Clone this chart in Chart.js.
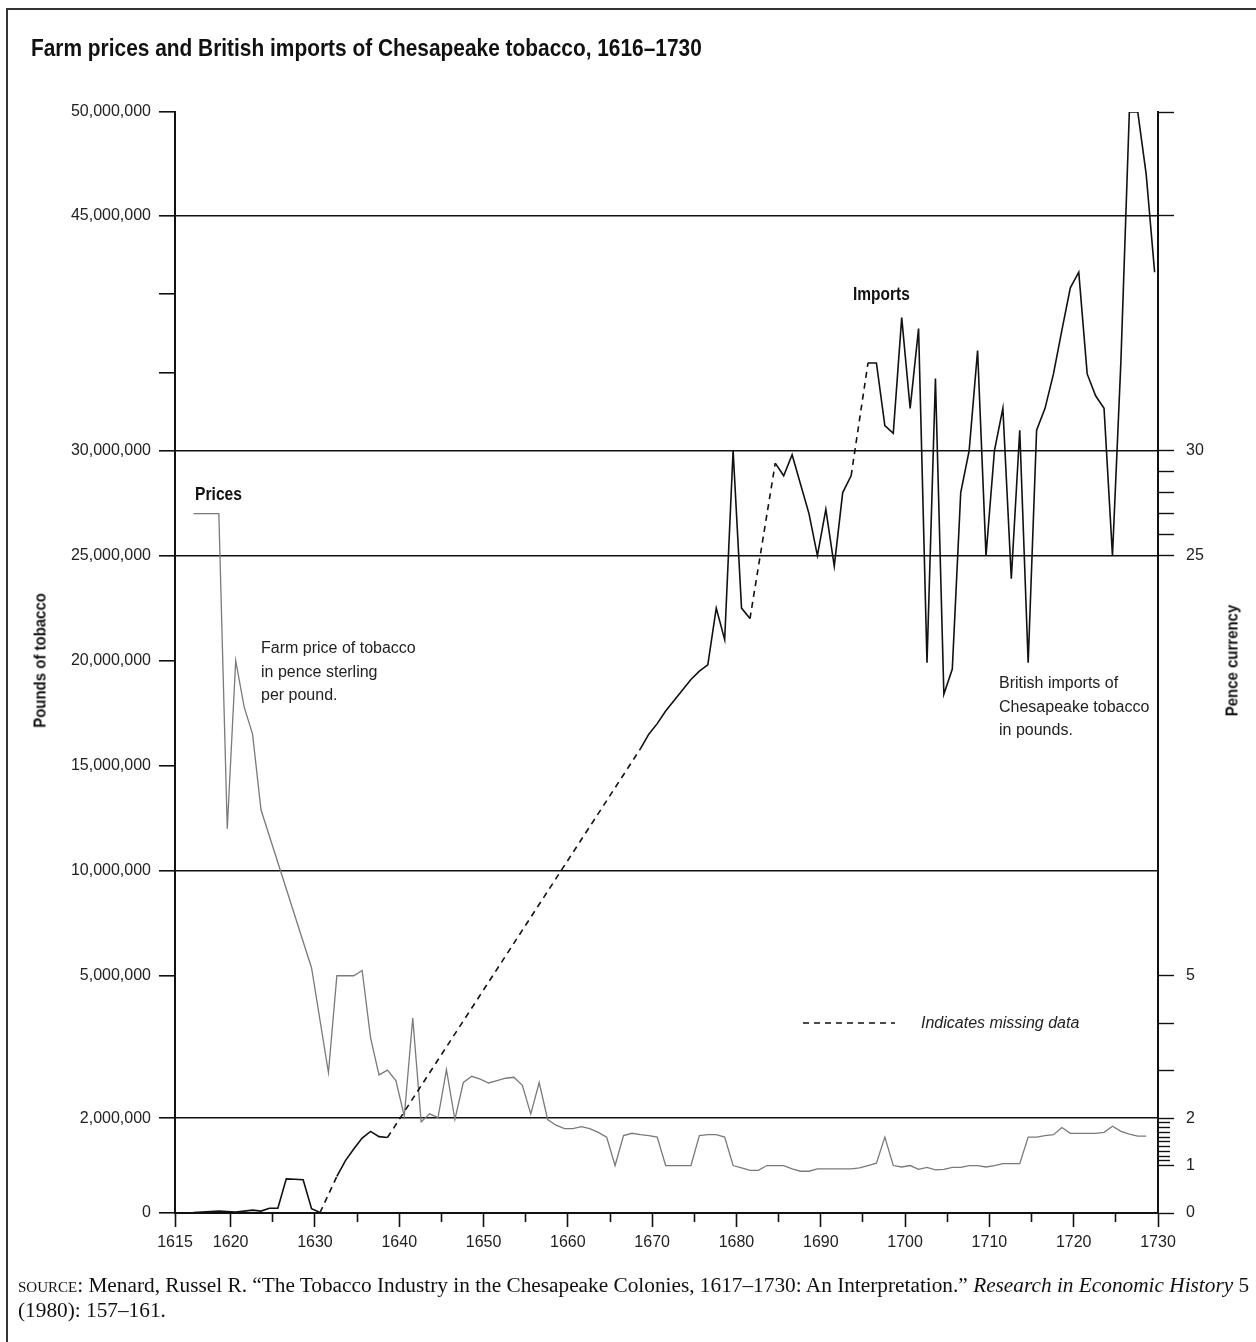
<!DOCTYPE html>
<html>
<head>
<meta charset="utf-8">
<title>Farm prices and British imports of Chesapeake tobacco, 1616–1730</title>
<script src="https://cdn.jsdelivr.net/npm/chart.js@4.4.1/dist/chart.umd.min.js"></script>
<style>
  body { margin: 0; background: #fff; }
  #page { position: relative; width: 1256px; height: 1342px; overflow: hidden; background: #fff; }
  #frame { position: absolute; left: 6px; top: 8px; width: 1400px; height: 1500px; border: 2px solid #333; box-sizing: border-box; }
  canvas { position: absolute; left: 0; top: 0; }
  .txt { position: absolute; color: #222; font-family: 'Liberation Sans', Arial, sans-serif; white-space: nowrap; line-height: 1; }
  .narrow { font-weight: bold; color: #111; transform-origin: left center; }
  #title { left: 31px; top: 36px; font-size: 24px; transform: scaleX(0.87); }
  .ytitle { width: 220px; text-align: center; font-size: 17px; transform-origin: center center; transform: rotate(-90deg) scaleX(0.88); }
  .note { font-size: 16px; line-height: 23.5px; }
  #source { left: 18px; top: 1273px; font-family: 'Liberation Serif', 'Times New Roman', serif; font-size: 21.3px; line-height: 25px; color: #111; }
  #source .sc { font-variant: small-caps; }
</style>
</head>
<body>
<div id="page">
  <div id="frame"></div>
  <canvas id="tobaccoChart" width="1256" height="1342"></canvas>
  <div id="title" class="txt narrow">Farm prices and British imports of Chesapeake tobacco, 1616–1730</div>
  <div class="txt narrow ytitle" style="left:-70px; top:652px;">Pounds of tobacco</div>
  <div class="txt narrow ytitle" style="left:1122px; top:652px;">Pence currency</div>
  <div class="txt narrow" style="left:195px; top:485px; font-size:18px; transform: scaleX(0.87);">Prices</div>
  <div class="txt narrow" style="left:853px; top:285px; font-size:18px; transform: scaleX(0.86);">Imports</div>
  <div class="txt note" style="left:261px; top:636px;">Farm price of tobacco<br>in pence sterling<br>per pound.</div>
  <div class="txt note" style="left:999px; top:671px;">British imports of<br>Chesapeake tobacco<br>in pounds.</div>
  <div class="txt" style="left:921px; top:1015px; font-size:16px; font-style:italic;">Indicates missing data</div>
  <div id="source" class="txt"><span class="sc">source</span>: Menard, Russel R. “The Tobacco Industry in the Chesapeake Colonies, 1617–1730: An Interpretation.” <i>Research in Economic History</i> 5<br>(1980): 157–161.</div>
</div>
<script>
// Farm price of tobacco, pence per pound (only the years that show on the line)
var priceYears = [1616, 1617, 1618, 1619, 1620, 1621, 1622, 1623, 1624, 1630, 1632, 1633, 1634, 1635, 1636, 1637, 1638, 1639, 1640,
    1641, 1642, 1643, 1644, 1645, 1646, 1647, 1648, 1649, 1650, 1651, 1652, 1653, 1654, 1655, 1656, 1657, 1658, 1659, 1660,
    1661, 1662, 1663, 1664, 1665, 1666, 1667, 1668, 1669, 1670, 1671, 1672, 1673, 1674, 1675, 1676, 1677, 1678, 1679, 1680,
    1681, 1682, 1683, 1684, 1685, 1686, 1687, 1688, 1689, 1690, 1691, 1692, 1693, 1694, 1695, 1696, 1697, 1698, 1699, 1700,
    1701, 1702, 1703, 1704, 1705, 1706, 1707, 1708, 1709, 1710, 1711, 1712, 1713, 1714, 1715, 1716, 1717, 1718, 1719, 1720,
    1721, 1722, 1723, 1724, 1725, 1726, 1727, 1728, 1729, 1730];
var pricePence = [27, 27, 27, 27, 12.0, 20.0, 17.8, 16.5, 12.9, 5.37, 2.96, 5.0, 5.0, 5.0, 5.25, 3.69, 2.91, 3.01, 2.79,
    2.04, 4.11, 1.92, 2.09, 2.01, 3.02, 1.97, 2.75, 2.88, 2.82, 2.74, 2.79, 2.84, 2.86, 2.69, 2.09, 2.75, 1.97, 1.85, 1.78,
    1.78, 1.82, 1.78, 1.70, 1.60, 1.0, 1.63, 1.68, 1.65, 1.63, 1.6, 1.0, 1.0, 1.0, 1.0, 1.63, 1.65, 1.65, 1.6, 1.0,
    0.95, 0.9, 0.9, 1.0, 1.0, 1.0, 0.93, 0.88, 0.88, 0.93, 0.93, 0.93, 0.93, 0.93, 0.95, 1.0, 1.05, 1.6, 1.0,
    0.97, 1.0, 0.92, 0.96, 0.91, 0.92, 0.96, 0.96, 1.0, 1.0, 0.97, 1.0, 1.04, 1.04, 1.04, 1.6, 1.6, 1.63, 1.65, 1.8,
    1.68, 1.68, 1.68, 1.68, 1.7, 1.83, 1.72, 1.66, 1.62, 1.62];

// British imports of Chesapeake tobacco, millions of pounds (gaps in the years = missing data)
var importYears = [1616, 1617, 1618, 1619, 1620, 1621, 1622, 1623, 1624, 1625, 1626, 1627, 1628, 1629, 1630, 1631,
    1633, 1634, 1635, 1636, 1637, 1638, 1639,
    1669, 1670, 1671, 1672, 1673, 1674, 1675, 1676, 1677, 1678, 1679, 1680, 1681, 1682,
    1685, 1686, 1687, 1688, 1689, 1690, 1691, 1692, 1693, 1694,
    1696, 1697, 1698, 1699, 1700, 1701, 1702, 1703, 1704, 1705, 1706, 1707, 1708, 1709, 1710, 1711, 1712, 1713,
    1714, 1715, 1716, 1717, 1718, 1719, 1720, 1721, 1722, 1723, 1724, 1725, 1726, 1727, 1728, 1729, 1730];
var importMillions = [0.01, 0.02, 0.03, 0.04, 0.03, 0.02, 0.04, 0.06, 0.04, 0.10, 0.10, 0.72, 0.71, 0.70, 0.09, 0.01,
    0.77, 1.1, 1.35, 1.58, 1.72, 1.61, 1.59,
    15.8, 16.5, 17.0, 17.6, 18.1, 18.6, 19.1, 19.5, 19.8, 22.5, 21.0, 30.0, 22.5, 22.0,
    29.4, 28.8, 29.8, 28.4, 27.0, 25.0, 27.2, 24.5, 28.0, 28.8,
    35.6, 35.6, 31.6, 31.1, 38.5, 32.7, 37.8, 19.9, 34.6, 18.4, 19.6, 28.0, 30.0, 36.4, 25.0, 30.0, 32.7, 23.9,
    31.3, 19.9, 31.3, 32.7, 34.9, 37.7, 40.4, 41.4, 34.9, 33.5, 32.7, 25.0, 35.7, 50, 50, 47.0, 41.4];

// Axis ticks
var xTicks = [1615, 1620, 1625, 1630, 1635, 1640, 1645, 1650, 1655, 1660, 1665, 1670, 1675, 1680, 1685, 1690, 1695,
    1700, 1705, 1710, 1715, 1720, 1725, 1730];
var xLabelled = [1615, 1620, 1630, 1640, 1650, 1660, 1670, 1680, 1690, 1700, 1710, 1720, 1730];
var poundTicks = [0, 2e6, 5e6, 10e6, 15e6, 20e6, 25e6, 30e6, 35e6, 40e6, 45e6, 50e6];
var poundLabelled = [0, 2e6, 5e6, 10e6, 15e6, 20e6, 25e6, 30e6, 45e6, 50e6];
var gridLines = [0, 2e6, 10e6, 25e6, 30e6, 45e6];
var penceTicks = [0, 1, 1.1, 1.2, 1.3, 1.4, 1.5, 1.6, 1.7, 1.8, 1.9, 2, 3, 4, 5, 25, 26, 27, 28, 29, 30, 45, 50];
var penceLabelled = [0, 1, 2, 5, 25, 30];

// The vertical scale of the original is drawn in pieces: value (millions / pence) -> share of the axis height
var scaleBreaks = [0, 5, 30, 45, 50];
var scaleShares = [0, 0.2155, 0.6925, 0.9056, 1];

var X_AXIS_START = 1613.4;   // the axis origin, labelled 1615 in the original
var YEAR_OFFSET = -0.4;      // each annual value sits just before its year tick

function toShare(v) {
    for (var i = 1; i < scaleBreaks.length; i++) {
        if (v <= scaleBreaks[i] || i === scaleBreaks.length - 1) {
            var t = (v - scaleBreaks[i - 1]) / (scaleBreaks[i] - scaleBreaks[i - 1]);
            return scaleShares[i - 1] + t * (scaleShares[i] - scaleShares[i - 1]);
        }
    }
    return 0;
}
function fromShare(s) {
    for (var i = 1; i < scaleShares.length; i++) {
        if (s <= scaleShares[i] || i === scaleShares.length - 1) {
            var t = (s - scaleShares[i - 1]) / (scaleShares[i] - scaleShares[i - 1]);
            return scaleBreaks[i - 1] + t * (scaleBreaks[i] - scaleBreaks[i - 1]);
        }
    }
    return 0;
}

// Linear scale with the piecewise mapping above
class PiecewiseScale extends Chart.LinearScale {
    getPixelForValue(value) {
        return this.getPixelForDecimal(toShare(value / this.options.unit));
    }
    getValueForPixel(pixel) {
        return fromShare(this.getDecimalForPixel(pixel)) * this.options.unit;
    }
}
PiecewiseScale.id = 'piecewise';
PiecewiseScale.defaults = { unit: 1 };
Chart.register(PiecewiseScale);

function has(list, v) {
    return list.some(function (x) { return Math.abs(x - v) < 1e-6; });
}

var importPoints = importYears.map(function (y, i) { return { x: y + YEAR_OFFSET, y: importMillions[i] * 1e6 }; });
var pricePoints = priceYears.map(function (y, i) { return { x: y + YEAR_OFFSET, y: pricePence[i] }; });

var tickFont = { family: "'Liberation Sans', Arial, sans-serif", size: 16 };

// Legend sample for the dashed (missing data) line
var missingLegend = {
    id: 'missingLegend',
    afterDraw: function (chart) {
        var ctx = chart.ctx;
        ctx.save();
        ctx.strokeStyle = '#111';
        ctx.lineWidth = 1.5;
        ctx.setLineDash([6, 5]);
        ctx.beginPath();
        ctx.moveTo(803, 1023);
        ctx.lineTo(895, 1023);
        ctx.stroke();
        ctx.restore();
    }
};

var ctx = document.getElementById('tobaccoChart').getContext('2d');
new Chart(ctx, {
    type: 'line',
    data: {
        datasets: [{
            label: 'Imports',
            data: importPoints,
            yAxisID: 'y',
            borderColor: '#111',
            borderWidth: 1.6,
            pointRadius: 0,
            tension: 0,
            segment: {
                // a jump of more than one year means missing data
                borderDash: function (c) { return c.p1.parsed.x - c.p0.parsed.x > 1.5 ? [6, 5] : undefined; }
            }
        }, {
            label: 'Prices',
            data: pricePoints,
            yAxisID: 'yRight',
            borderColor: '#7a7a7a',
            borderWidth: 1.3,
            pointRadius: 0,
            tension: 0
        }]
    },
    options: {
        responsive: false,
        animation: false,
        devicePixelRatio: 1,
        layout: { padding: { left: 0, right: 0, top: 112, bottom: 0 } },
        plugins: {
            legend: { display: false },
            tooltip: { enabled: false }
        },
        scales: {
            x: {
                type: 'linear',
                min: X_AXIS_START,
                max: 1730,
                afterFit: function (s) { s.height = 129; },
                afterBuildTicks: function (s) {
                    s.ticks = xTicks.map(function (v) { return { value: v === 1615 ? X_AXIS_START : v }; });
                },
                ticks: {
                    autoSkip: false,
                    maxRotation: 0,
                    color: '#222',
                    font: tickFont,
                    padding: 6,
                    callback: function (v) {
                        var year = v === X_AXIS_START ? 1615 : v;
                        return has(xLabelled, year) ? String(year) : '';
                    }
                },
                grid: {
                    drawOnChartArea: false,
                    tickLength: 14,
                    tickColor: '#111',
                    tickWidth: 1.6,
                    tickBorderDash: function (c) {
                        var year = c.tick.value === X_AXIS_START ? 1615 : c.tick.value;
                        return has(xLabelled, year) ? [] : [8, 100];
                    }
                },
                border: { color: '#111', width: 2 }
            },
            y: {
                type: 'piecewise',
                unit: 1e6,
                position: 'left',
                min: 0,
                max: 50e6,
                afterFit: function (s) { s.width = 175; },
                afterBuildTicks: function (s) {
                    s.ticks = poundTicks.map(function (v) { return { value: v }; });
                },
                ticks: {
                    color: '#222',
                    font: tickFont,
                    padding: 8,
                    callback: function (v) {
                        return has(poundLabelled, v) ? v.toLocaleString('en-US') : '';
                    }
                },
                grid: {
                    tickLength: 16,
                    tickColor: '#111',
                    tickWidth: 1.6,
                    lineWidth: 1.6,
                    color: function (c) { return c.tick && has(gridLines, c.tick.value) ? '#111' : 'rgba(0,0,0,0)'; }
                },
                border: { color: '#111', width: 2 }
            },
            yRight: {
                type: 'piecewise',
                unit: 1,
                position: 'right',
                min: 0,
                max: 50,
                afterFit: function (s) { s.width = 98; },
                afterBuildTicks: function (s) {
                    s.ticks = penceTicks.map(function (v) { return { value: v }; });
                },
                ticks: {
                    color: '#222',
                    font: tickFont,
                    padding: 12,
                    callback: function (v) {
                        return has(penceLabelled, v) ? String(v) : '';
                    }
                },
                grid: {
                    drawOnChartArea: false,
                    tickLength: 16,
                    tickColor: '#111',
                    tickWidth: 1.4,
                    tickBorderDash: function (c) {
                        return c.tick.value > 1 && c.tick.value < 2 ? [11, 100] : [];
                    }
                },
                border: { color: '#111', width: 2 }
            }
        }
    },
    plugins: [missingLegend]
});
</script>
</body>
</html>
